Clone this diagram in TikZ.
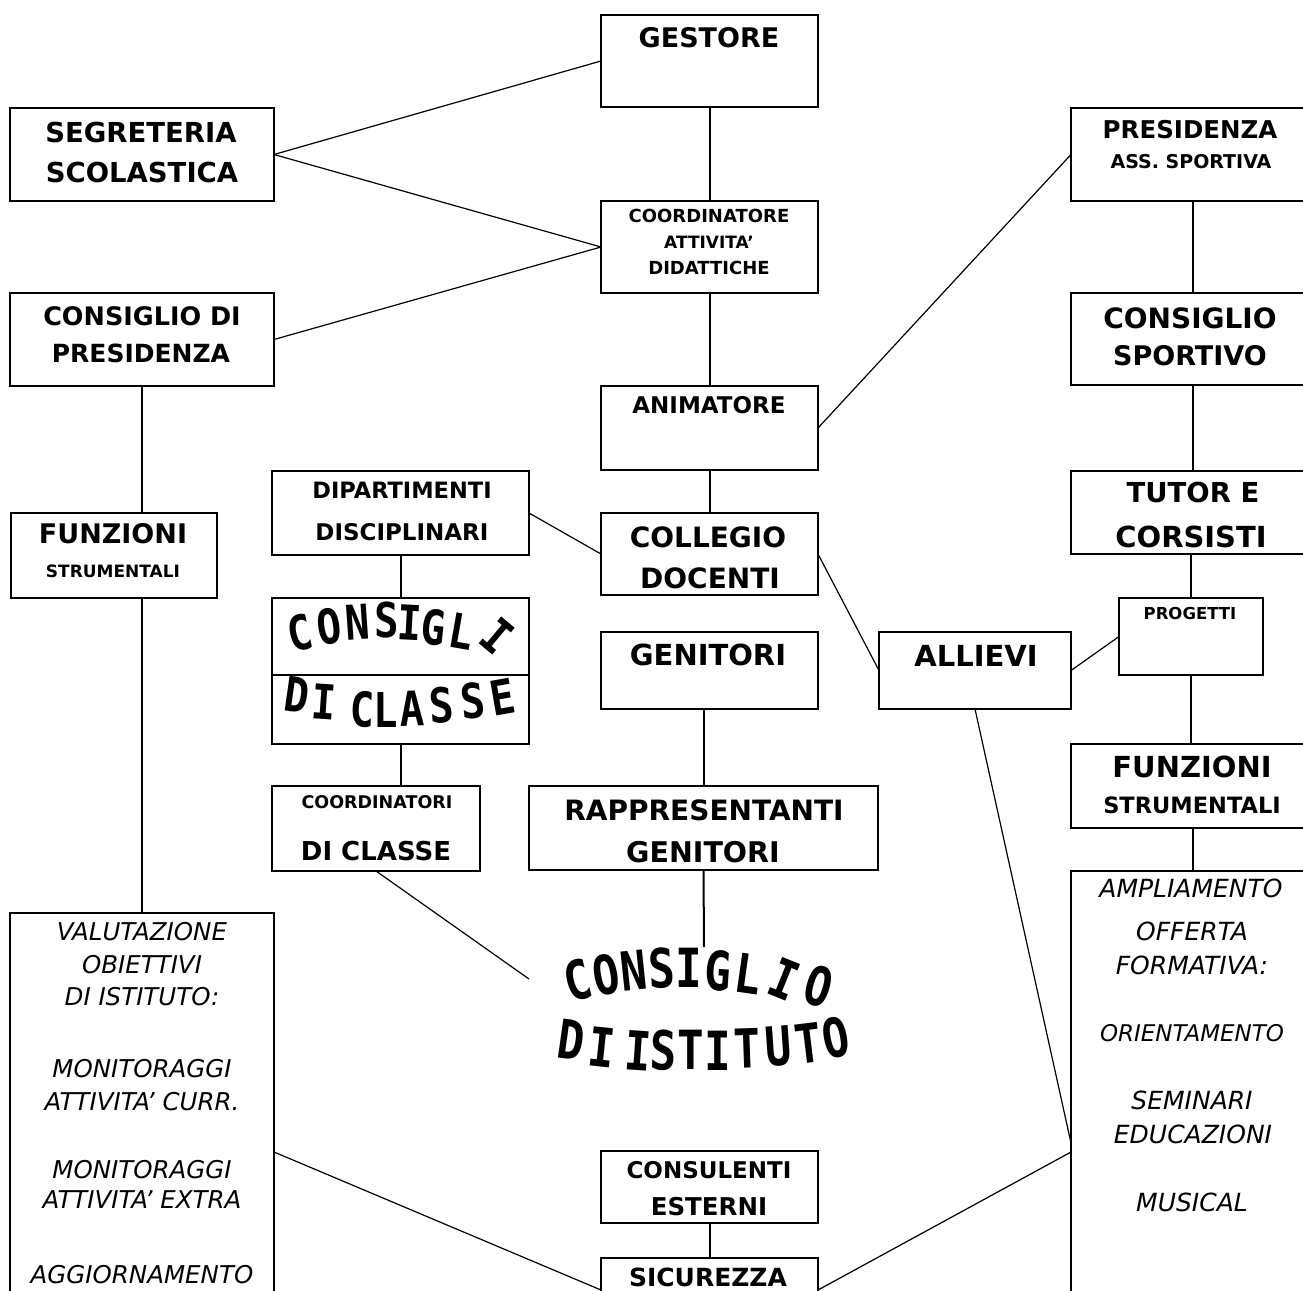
\documentclass[tikz,border=0pt]{standalone}
\usepackage{fontspec}
\setmainfont{DejaVu Sans}
\newfontfamily\wafont{DejaVu Sans Mono}
\newcommand\mybox[5]{\node[box, minimum width={(#4-#2)*1pt}, minimum height={(#5-#3)*1pt}] (#1) at ({(#2+#4)/2},{(#3+#5)/2}) {};}
\begin{document}
\begin{tikzpicture}[x=1pt,y=-1pt,
  box/.style={draw, line width=2.2pt, inner sep=0pt, outer sep=0pt},
  vline/.style={line width=2pt},
  dline/.style={line width=1.2pt},
  tb/.style={font={\fontsize{#1}{#1}\selectfont\bfseries}, anchor=base, inner sep=0pt},
  ti/.style={font={\fontsize{#1}{#1}\selectfont\itshape}, anchor=base, inner sep=0pt},
  ltrA/.style={font={\wafont\fontsize{48}{48}\selectfont\bfseries}, inner sep=0pt, rotate=#1, xscale=0.85},
  ltrB/.style={font={\wafont\fontsize{54}{54}\selectfont\bfseries}, inner sep=0pt, rotate=#1, xscale=0.82}]
\useasboundingbox (0,0) rectangle (1303,1290);
\clip (0,0) rectangle (1303,1290);
% boxes
\mybox{gest}{601}{15}{818}{107}
\mybox{segr}{10}{108}{274}{201}
\mybox{coord}{601}{201}{818}{293}
\mybox{cpres}{10}{293}{274}{386}
\mybox{anim}{601}{386}{818}{470}
\mybox{pres}{1071}{108}{1315}{201}
\mybox{csport}{1071}{293}{1315}{385}
\mybox{tutor}{1071}{471}{1315}{554}
\mybox{funl}{11}{513}{217}{598}
\mybox{dip}{272}{471}{529}{555}
\mybox{coll}{601}{513}{818}{595}
\mybox{cdc}{272}{598}{529}{744}
\mybox{gen}{601}{632}{818}{709}
\mybox{all}{879}{632}{1071}{709}
\mybox{prog}{1119}{598}{1263}{675}
\mybox{funr}{1071}{744}{1315}{828}
\mybox{coordc}{272}{786}{480}{871}
\mybox{rapp}{529}{786}{878}{870}
\mybox{val}{10}{913}{274}{1310}
\mybox{ampl}{1071}{871}{1315}{1310}
\mybox{cons}{601}{1151}{818}{1223}
\mybox{sic}{601}{1258}{818}{1310}
\coordinate (dv) at (0,675);
\draw[line width=2.2pt] (cdc.west |- dv) -- (cdc.east |- dv);
% free ends
\coordinate (ci-w) at (529,979);
\coordinate (ci-n) at (704,947);
\coordinate (ampl-a) at (1071,1143);
\coordinate (ampl-b) at (1071,1152);
\coordinate (val-e) at (274,1152);
\coordinate (sic-w) at (601,1290);
\coordinate (sic-e) at (818,1290);
% connectors
\draw[dline] (segr.east) -- (gest.west);
\draw[dline] (segr.east) -- (coord.west);
\draw[dline] (cpres.east) -- (coord.west);
\draw[vline] (gest.south) -- (coord.north);
\draw[vline] (coord.south) -- (anim.north);
\draw[dline] (anim.east) -- (pres.west);
\draw[vline] (anim.south) -- (coll.north);
\draw[dline] (dip.east) -- (coll.west);
\draw[vline] (dip.south) -- (cdc.north);
\draw[vline] (cdc.south) -- (cdc.south |- coordc.north);
\draw[dline] (coordc.south) -- (ci-w);
\draw[vline] (rapp.north |- gen.south) -- (rapp.north);
\draw[vline] (rapp.south) -- (ci-n);
\draw[dline] (coll.east) -- (all.west);
\draw[dline] (all.east) -- (prog.west);
\draw[dline] (all.south) -- (ampl-a);
\draw[dline] (val-e) -- (sic-w);
\draw[dline] (sic-e) -- (ampl-b);
\draw[vline] (cons.south) -- (sic.north);
\draw[vline] (cpres.south) -- (cpres.south |- funl.north);
\draw[vline] (val.north |- funl.south) -- (val.north);
\draw[vline] (pres.south) -- (csport.north);
\draw[vline] (csport.south) -- (tutor.north);
\draw[vline] (prog.north |- tutor.south) -- (prog.north);
\draw[vline] (prog.south) -- (prog.south |- funr.north);
\draw[vline] (funr.south) -- (ampl.north);
% texts
\node[tb=27] (t1) at (709,48) {GESTORE};
\node[tb=27.5] (t2) at (141,142) {SEGRETERIA};
\node[tb=27.5] (t3) at (142,182) {SCOLASTICA};
\node[tb=18] (t4) at (709,222) {COORDINATORE};
\node[tb=17] (t5) at (709,248) {ATTIVITA'};
\node[tb=18] (t6) at (709,274) {DIDATTICHE};
\node[tb=25.5] (t7) at (142,325) {CONSIGLIO DI};
\node[tb=25] (t8) at (141,362) {PRESIDENZA};
\node[tb=23] (t9) at (709,413) {ANIMATORE};
\node[tb=24.5] (t10) at (1190,138) {PRESIDENZA};
\node[tb=19] (t11) at (1191,168) {ASS. SPORTIVA};
\node[tb=28] (t12) at (1190,328) {CONSIGLIO};
\node[tb=27] (t13) at (1190,365) {SPORTIVO};
\node[tb=27.5] (t14) at (1193,502) {TUTOR E};
\node[tb=29] (t15) at (1191,547) {CORSISTI};
\node[tb=27] (t16) at (113,543) {FUNZIONI};
\node[tb=17] (t17) at (113,577) {STRUMENTALI};
\node[tb=22.5] (t18) at (402,498) {DIPARTIMENTI};
\node[tb=23] (t19) at (402,540) {DISCIPLINARI};
\node[tb=28] (t20) at (708,547) {COLLEGIO};
\node[tb=28] (t21) at (710,588) {DOCENTI};
\node[tb=29] (t22) at (708,665) {GENITORI};
\node[tb=29] (t23) at (976,666) {ALLIEVI};
\node[tb=16.5] (t24) at (1190,619) {PROGETTI};
\node[tb=29] (t25) at (1192,777) {FUNZIONI};
\node[tb=22.5] (t26) at (1192,813) {STRUMENTALI};
\node[tb=17.5] (t27) at (377,808) {COORDINATORI};
\node[tb=26] (t28) at (376,860) {DI CLASSE};
\node[tb=28] (t29) at (704,820) {RAPPRESENTANTI};
\node[tb=28.5] (t30) at (703,862) {GENITORI};
\node[tb=23] (t31) at (709,1178) {CONSULENTI};
\node[tb=24.5] (t32) at (709,1215) {ESTERNI};
\node[tb=25] (t33) at (708,1286) {SICUREZZA};
% italic left
\node[ti=24.5] (v1) at (142,940) {VALUTAZIONE};
\node[ti=24.5] (v2) at (142,973) {OBIETTIVI};
\node[ti=24.5] (v3) at (142,1005) {DI ISTITUTO:};
\node[ti=24.5] (v4) at (142,1077) {MONITORAGGI};
\node[ti=24.5] (v5) at (142,1110) {ATTIVITA' CURR.};
\node[ti=24.5] (v6) at (142,1178) {MONITORAGGI};
\node[ti=24.5] (v7) at (142,1208) {ATTIVITA' EXTRA};
\node[ti=24.5] (v8) at (142,1283) {AGGIORNAMENTO};
% italic right
\node[ti=25] (a1) at (1191,897) {AMPLIAMENTO};
\node[ti=25] (a2) at (1192,940) {OFFERTA};
\node[ti=25] (a3) at (1192,974) {FORMATIVA:};
\node[ti=23] (a4) at (1192,1041) {ORIENTAMENTO};
\node[ti=25] (a5) at (1192,1109) {SEMINARI};
\node[ti=25] (a6) at (1193,1143) {EDUCAZIONI};
\node[ti=25] (a7) at (1192,1211) {MUSICAL};
% CONSIGLI DI CLASSE
\node[ltrA=12] (k1) at (300,633) {C};
\node[ltrA=8] (k2) at (329,626) {O};
\node[ltrA=4] (k3) at (358,622) {N};
\node[ltrA=0] (k4) at (387,620) {S};
\node[ltrA=-3] (k5) at (410,623) {I};
\node[ltrA=-6] (k6) at (434,627) {G};
\node[ltrA=-10] (k7) at (462,631) {L};
\node[ltrA=-40] (k8) at (497,636) {I};
\node[ltrA=-8] (k9) at (297,695) {D};
\node[ltrA=-4] (k10) at (324,702) {I};
\node[ltrA=-2] (k11) at (362,709) {C};
\node[ltrA=0] (k12) at (386,710) {L};
\node[ltrA=2] (k13) at (412,709) {A};
\node[ltrA=4] (k14) at (442,705) {S};
\node[ltrA=6] (k15) at (473,701) {S};
\node[ltrA=10] (k16) at (503,697) {E};
% CONSIGLIO DI ISTITUTO
\node[ltrB=14] (c1) at (578,980) {C};
\node[ltrB=10] (c2) at (606,975) {O};
\node[ltrB=6] (c3) at (634,971) {N};
\node[ltrB=3] (c4) at (662,968) {S};
\node[ltrB=0] (c5) at (689,968) {I};
\node[ltrB=-4] (c6) at (718,971) {G};
\node[ltrB=-8] (c7) at (748,974) {L};
\node[ltrB=-22] (c8) at (784,979) {I};
\node[ltrB=-16] (c9) at (819,986) {O};
\node[ltrB=-8] (c10) at (571,1040) {D};
\node[ltrB=-6] (c11) at (602,1047) {I};
\node[ltrB=-4] (c12) at (638,1051) {I};
\node[ltrB=-2] (c13) at (663,1050) {S};
\node[ltrB=0] (c14) at (691,1050) {T};
\node[ltrB=0] (c15) at (718,1051) {I};
\node[ltrB=2] (c16) at (747,1048) {T};
\node[ltrB=4] (c17) at (778,1046) {U};
\node[ltrB=7] (c18) at (808,1043) {T};
\node[ltrB=11] (c19) at (836,1038) {O};
\end{tikzpicture}
\end{document}
